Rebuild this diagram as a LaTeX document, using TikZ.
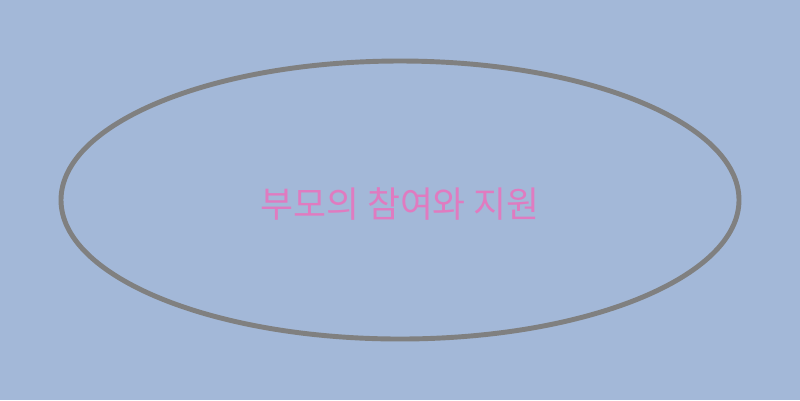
\documentclass[tikz,border=0pt]{standalone}
\usepackage{fontspec}
\newfontfamily\kofont{Noto Sans CJK KR}
\definecolor{bgblue}{HTML}{A3B8D8}
\definecolor{rimgray}{HTML}{808080}
\definecolor{labelpink}{HTML}{E07BC0}
\tikzset{rim/.style={draw=rimgray, line width=1.4pt}}
\begin{document}
\begin{tikzpicture}
        \fill[bgblue] (0,0) rectangle (8,4);
        \useasboundingbox (0,0) rectangle (8,4);
        \draw[rim] (4,2) ellipse (3.39 and 1.39);
        \node[text=labelpink, font=\kofont\fontsize{10.2}{12}\selectfont] (support) at (4,1.96) {부모의 참여와 지원};
    \end{tikzpicture}
\end{document}
